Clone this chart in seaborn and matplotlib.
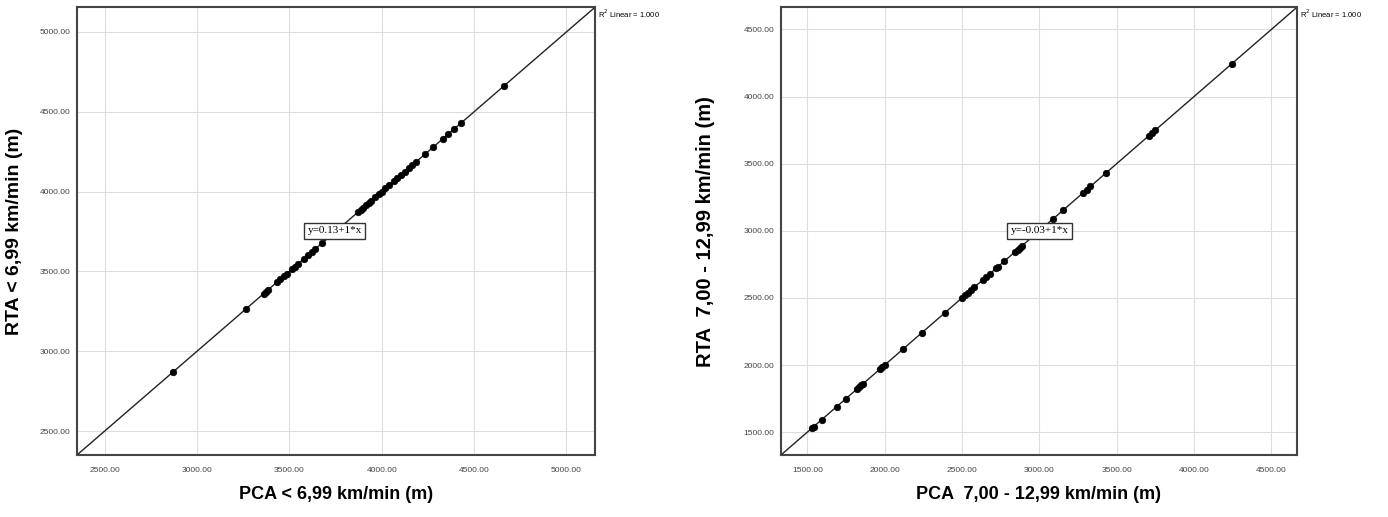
import numpy as np
import pandas as pd
import matplotlib
matplotlib.use("Agg")
import matplotlib.pyplot as plt
import seaborn as sns

# Data (metres)
pca_low = [2870, 3265, 3360, 3372, 3385, 3435, 3450, 3470, 3485, 3515, 3530, 3545,
           3580, 3600, 3620, 3640, 3675, 3870, 3885, 3900, 3915, 3930, 3940,
           3965, 3985, 4000, 4020, 4040, 4065, 4085, 4105, 4125, 4145, 4165, 4185,
           4235, 4280, 4330, 4360, 4390, 4430, 4663]
rta_low = [2870, 3265, 3360, 3372, 3385, 3435, 3450, 3470, 3485, 3515, 3530, 3545,
           3580, 3600, 3620, 3640, 3675, 3870, 3885, 3900, 3915, 3930, 3940,
           3965, 3985, 4000, 4020, 4040, 4065, 4085, 4105, 4125, 4145, 4165, 4185,
           4235, 4280, 4330, 4360, 4390, 4430, 4663]

pca_mid = [1528, 1540, 1593, 1690, 1749, 1820, 1835, 1850, 1860, 1972, 1985, 2000,
           2117, 2239, 2389, 2500, 2520, 2540, 2560, 2580, 2635, 2655, 2678,
           2720, 2730, 2773, 2840, 2860, 2875, 2890, 3090, 3155, 3280, 3305, 3330,
           3433, 3707, 3730, 3750, 4245]
rta_mid = [1528, 1540, 1593, 1690, 1749, 1820, 1835, 1850, 1860, 1972, 1985, 2000,
           2117, 2239, 2389, 2500, 2520, 2540, 2560, 2580, 2635, 2655, 2678,
           2720, 2730, 2773, 2840, 2860, 2875, 2890, 3090, 3155, 3280, 3305, 3330,
           3433, 3707, 3730, 3750, 4245]

intercepts = [0.13, -0.03]
eq_labels = ["y=0.13+1*x", "y=-0.03+1*x"]
x_labels = ["PCA < 6,99 km/min (m)", "PCA  7,00 - 12,99 km/min (m)"]
y_labels = ["RTA < 6,99 km/min (m)", "RTA  7,00 - 12,99 km/min (m)"]
x_ticks = [[2500, 3000, 3500, 4000, 4500, 5000],
           [1500, 2000, 2500, 3000, 3500, 4000, 4500]]
y_ticks = [[2500, 3000, 3500, 4000, 4500, 5000],
           [1500, 2000, 2500, 3000, 3500, 4000, 4500]]
limits = [(2350, 5155), (1330, 4665)]
eq_pos = [(3745, 3755), (3000, 3000)]
ylabel_x = [-0.104, -0.128]
ylabel_size = [14, 14.5]

sns.set_theme(style="whitegrid")
plt.rcParams['font.family'] = ['Liberation Sans', 'DejaVu Sans']
plt.rcParams['text.color'] = 'black'
plt.rcParams['axes.labelcolor'] = 'black'

fig = plt.figure(figsize=(13.88, 5.17), dpi=100)
ax1 = fig.add_axes([0.0555, 0.12, 0.3732, 0.866])
ax2 = fig.add_axes([0.5627, 0.12, 0.3717, 0.866])

panels = [(ax1, pca_low, rta_low), (ax2, pca_mid, rta_mid)]
for i, (ax, xs, ys) in enumerate(panels):
    df = pd.DataFrame({"pca": xs, "rta": ys})
    lo, hi = limits[i]
    ax.set_xlim(lo, hi)
    ax.set_ylim(lo, hi)
    ax.axline((0, intercepts[i]), slope=1, color="#222222", lw=1.0, zorder=2)
    sns.scatterplot(data=df, x="pca", y="rta", ax=ax, color="black", s=22,
                    edgecolor="black", linewidth=0.5, zorder=3)
    ax.set_xticks(x_ticks[i])
    ax.set_yticks(y_ticks[i])
    ax.set_xticklabels([f"{v:.2f}" for v in x_ticks[i]], fontsize=6, color="#444444")
    ax.set_yticklabels([f"{v:.2f}" for v in y_ticks[i]], fontsize=6, color="#444444")
    ax.tick_params(axis="both", length=0)
    ax.tick_params(axis="y", pad=5)
    ax.tick_params(axis="x", pad=9)
    ax.grid(True, color="#dddddd", lw=0.8)
    for sp in ax.spines.values():
        sp.set_color("#444444")
        sp.set_linewidth(1.5)
    ax.set_xlabel(x_labels[i], fontsize=13, fontweight="bold",
                  family=["Liberation Sans Narrow", "Liberation Sans"], labelpad=8)
    ax.set_ylabel(y_labels[i], fontsize=ylabel_size[i], fontweight="bold")
    ax.yaxis.set_label_coords(ylabel_x[i], 0.5)
    ax.text(eq_pos[i][0], eq_pos[i][1], eq_labels[i], fontsize=8, ha="center", va="center",
            family=["Liberation Serif"],
            bbox=dict(boxstyle="square,pad=0.3", facecolor="white", edgecolor="#333333", lw=1))
    ax.text(1.005, 0.985, r"R$^2$ Linear = 1.000", transform=ax.transAxes,
            fontsize=5.5, ha="left", va="center")

fig.savefig("out.png", dpi=100)
